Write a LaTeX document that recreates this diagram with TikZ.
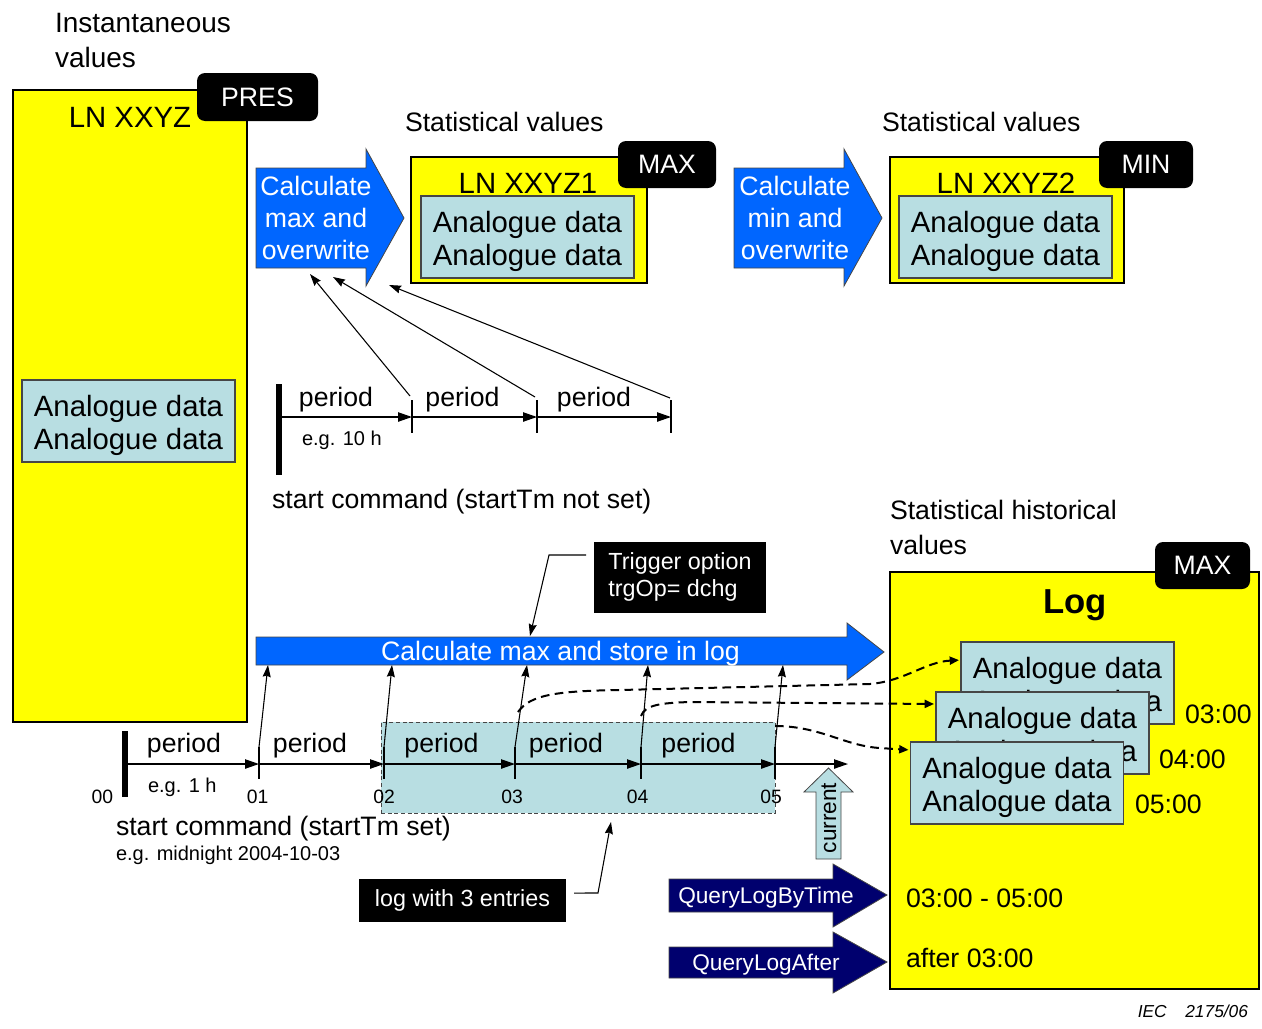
\documentclass[tikz,border=0pt]{standalone}
\usepackage{fontspec}
\setmainfont{Liberation Sans}
\usetikzlibrary{arrows.meta,calc}

\definecolor{lnyellow}{RGB}{255,255,0}
\definecolor{datacyan}{RGB}{184,222,226}
\definecolor{calcblue}{RGB}{0,102,255}
\definecolor{querynavy}{RGB}{0,0,110}
\definecolor{edgegray}{RGB}{70,70,70}
\newcommand\fsz[2]{\fontsize{#1}{#2}\selectfont}

\begin{document}
\begin{tikzpicture}[x=0.75pt,y=-0.75pt,
  every node/.style={inner sep=0pt, outer sep=0pt},
  boxsize/.style 2 args={minimum width={#1*0.75pt}, minimum height={#2*0.75pt}},
  lnbox/.style={draw=black, line width=1.5pt, fill=lnyellow},
  tag/.style={fill=black, rounded corners=6pt, text=white, font=\fsz{20}{24}},
  blackbox/.style={fill=black, text=white},
  databox/.style={draw=edgegray, line width=0.8pt, fill=datacyan},
  datatext/.style={align=center, font=\fsz{22}{24.75}},
  txtL/.style={font=\fsz{20}{24}},
  txtXL/.style={font=\fsz{22}{26}},
  txtS/.style={font=\fsz{15}{18}},
  txtT/.style={font=\fsz{14.5}{18}},
  calcarrow/.style={fill=calcblue, draw=edgegray, line width=0.6pt},
  queryarrow/.style={fill=querynavy, draw=edgegray, line width=0.6pt},
  axis/.style={line width=1pt, -{Triangle[length=10.5pt,width=7pt]}},
  startbar/.style={line width=4.5pt},
  tickbar/.style={line width=2.2pt},
  conn/.style={line width=0.8pt, -{Stealth[length=9pt,width=6pt,inset=1pt]}},
  dashconn/.style={line width=1.5pt, dash pattern=on 6.5pt off 4pt,
    -{Triangle[length=7pt,width=6pt]}, shorten >=1.5pt}]

\useasboundingbox (0,0) rectangle (1262,1028);

% ---------------- instantaneous values: LN XXYZ ----------------
\node[anchor=west, align=left, font=\fsz{21}{26.25}] (insttitle) at (55,40.4) {Instantaneous\\values};
\node[lnbox, boxsize={234}{632}] (xxyz) at (130,406) {};
\node[tag, boxsize={121}{48}] (pres) at (257.5,97) {PRES};
\node[txtXL, anchor=base] (xxyzname) at (130,127) {LN XXYZ};
\node[databox, boxsize={213}{82}] (xxyzdata) at (128.5,421) {};
\node[datatext] (xxyzdatatxt) at ([yshift=-3pt]xxyzdata.center) {Analogue data\\Analogue data};

% ---------------- statistical values: max ----------------
\path[calcarrow] (256,168) -- (366,168) -- (366,149) -- (404,218) -- (366,286) -- (366,268) -- (256,268) -- cycle;
\node[text=white, align=center, font=\fsz{20}{24}] (calcmax) at (316,218) {Calculate\\max and\\overwrite};
\node[txtL, anchor=base west] (stat1title) at (405,131) {Statistical values};
\node[lnbox, boxsize={236}{126}] (xxyz1) at (529,220) {};
\node[tag, boxsize={98}{47}] (max1) at (667,164.5) {MAX};
\node[txtXL, anchor=base] (xxyz1name) at (528,193) {LN XXYZ1};
\node[databox, boxsize={213}{82}] (xxyz1data) at (527.5,237) {};
\node[datatext] (xxyz1datatxt) at ([yshift=-3pt]xxyz1data.center) {Analogue data\\Analogue data};

% ---------------- statistical values: min ----------------
\path[calcarrow] (734,168) -- (844,168) -- (844,149) -- (882,218) -- (844,286) -- (844,268) -- (734,268) -- cycle;
\node[text=white, align=center, font=\fsz{20}{24}] (calcmin) at (795,218) {Calculate\\min and\\overwrite};
\node[txtL, anchor=base west] (stat2title) at (882,131) {Statistical values};
\node[lnbox, boxsize={234}{126}] (xxyz2) at (1007,220) {};
\node[tag, boxsize={94}{47}] (min2) at (1146,164.5) {MIN};
\node[txtXL, anchor=base] (xxyz2name) at (1006,193) {LN XXYZ2};
\node[databox, boxsize={213}{82}] (xxyz2data) at (1005.5,237) {};
\node[datatext] (xxyz2datatxt) at ([yshift=-3pt]xxyz2data.center) {Analogue data\\Analogue data};

% ---------------- upper time line (startTm not set) ----------------
\coordinate (u0) at (278.5,417);
\coordinate (u1) at (412,417);
\coordinate (u2) at (537,417);
\coordinate (u3) at (671,417);
\draw[startbar] (278.5,384) -- (278.5,475);
\draw[tickbar] (412,400) -- (412,433);
\draw[tickbar] (537,400) -- (537,433);
\draw[tickbar] (671,400) -- (671,433);
\draw[axis] (u0) -- (u1);
\draw[axis] (u1) -- (u2);
\draw[axis] (u2) -- (u3);
\node[txtL, anchor=base] (up1) at (336,406) {period};
\node[txtL, anchor=base] (up2) at (462.5,406) {period};
\node[txtL, anchor=base] (up3) at (594,406) {period};
\node[txtS, anchor=base west] (upeg) at (302,445) {e.g. 10 h};
\node[txtL, anchor=base west] (upstart) at (272,508) {start command (startTm not set)};

\coordinate (ut1) at (410,396);
\coordinate (ut2) at (535,397);
\coordinate (ut3) at (670,398);
\coordinate (ma1) at (310,274);
\coordinate (ma2) at (333,277);
\coordinate (ma3) at (389,285);
\draw[conn] (ut1) -- (ma1);
\draw[conn] (ut2) -- (ma2);
\draw[conn] (ut3) -- (ma3);

% ---------------- calculate max and store in log ----------------
\path[calcarrow] (256,637) -- (847,637) -- (847,623) -- (884,652) -- (847,680) -- (847,665) -- (256,665) -- cycle;
\node[text=white, anchor=base, txtL] (calclog) at (560.5,660) {Calculate max and store in log};

\node[blackbox, boxsize={172}{71}, align=left, font=\fsz{17.5}{20.25}] (trig) at (680,577) {Trigger option\\trgOp= dchg};
\coordinate (trigtip) at (530,636);
\draw[conn] ([xshift=-6pt,yshift=16.5pt]trig.west) -- (549,555) -- (trigtip);

% ---------------- lower time line (startTm set) ----------------
\node[draw=edgegray, line width=0.6pt, dash pattern=on 3pt off 2pt, fill=datacyan, boxsize={394}{91}] (logwin) at (578,767.5) {};

\coordinate (l0) at (125,764);
\coordinate (l1) at (259,764);
\coordinate (l2) at (384,764);
\coordinate (l3) at (515,764);
\coordinate (l4) at (641,764);
\coordinate (l5) at (775,764);
\coordinate (lend) at (848,764);
\draw[startbar] (125,731) -- (125,797);
\foreach \tx in {259,384,515,641,775} {\draw[tickbar] (\tx,747) -- (\tx,779);}
\draw[axis] (l0) -- (l1);
\draw[axis] (l1) -- (l2);
\draw[axis] (l2) -- (l3);
\draw[axis] (l3) -- (l4);
\draw[axis] (l4) -- (l5);
\draw[axis] (l5) -- (lend);

\node[txtL, anchor=base] (lp1) at (184,752) {period};
\node[txtL, anchor=base] (lp2) at (310,752) {period};
\node[txtL, anchor=base] (lp3) at (441.5,752) {period};
\node[txtL, anchor=base] (lp4) at (566,752) {period};
\node[txtL, anchor=base] (lp5) at (698.5,752) {period};
\node[txtS, anchor=base west] (loweg) at (148,792) {e.g. 1 h};
\node[txtT, anchor=base] (h00) at (102.5,803) {00};
\node[txtT, anchor=base] (h01) at (257.5,803) {01};
\node[txtT, anchor=base] (h02) at (384,803) {02};
\node[txtT, anchor=base] (h03) at (512,803) {03};
\node[txtT, anchor=base] (h04) at (637.5,803) {04};
\node[txtT, anchor=base] (h05) at (771,803) {05};
\node[txtL, anchor=base west] (lowstart) at (116,835) {start command (startTm set)};
\node[txtS, anchor=base west] (lowmid) at (116,860) {e.g. midnight 2004-10-03};

\coordinate (lt1) at (259,747);
\coordinate (lt2) at (384,747);
\coordinate (lt3) at (515,747);
\coordinate (lt4) at (641,747);
\coordinate (lt5) at (775,747);
\coordinate (la1) at (268,665);
\coordinate (la2) at (392,665);
\coordinate (la3) at (527,665);
\coordinate (la4) at (648,665);
\coordinate (la5) at (783,665);
\draw[conn] (lt1) -- (la1);
\draw[conn] (lt2) -- (la2);
\draw[conn] (lt3) -- (la3);
\draw[conn] (lt4) -- (la4);
\draw[conn] (lt5) -- (la5);

% current time marker
\path[fill=datacyan, draw=edgegray, line width=0.6pt] (816,859) -- (816,792) -- (804,792) -- (828.5,768) -- (853,792) -- (841,792) -- (841,859) -- cycle;
\node[rotate=90, font=\fsz{17}{20}] (current) at (829,818) {current};

\node[blackbox, boxsize={207}{43}, font=\fsz{17.5}{21}] (log3) at (462.5,900.5) {log with 3 entries};
\coordinate (logwintip) at (611,822);
\draw[conn] ([xshift=6pt,yshift=5.6pt]log3.east) -- (598,893) -- (logwintip);

% ---------------- statistical historical values: log ----------------
\node[anchor=west, align=left, font=\fsz{20}{26.25}] (histtitle) at (890,527) {Statistical historical\\values};
\node[lnbox, boxsize={369}{417}] (log) at (1074.5,780.5) {};
\node[tag, boxsize={95}{47}] (maxlog) at (1202.5,565.5) {MAX};
\node[anchor=base, font=\fsz{26}{30}\bfseries] (logname) at (1075,613) {Log};

\node[databox, boxsize={213}{82}] (e1) at (1067.5,683) {};
\node[datatext] (e1txt) at ([yshift=-3pt]e1.center) {Analogue data\\Analogue data};
\node[databox, boxsize={213}{82}] (e2) at (1042.5,733) {};
\node[datatext] (e2txt) at ([yshift=-3pt]e2.center) {Analogue data\\Analogue data};
\node[databox, boxsize={213}{82}] (e3) at (1017,783) {};
\node[datatext] (e3txt) at ([yshift=-3pt]e3.center) {Analogue data\\Analogue data};
\node[txtL, anchor=base west] (t1) at (1185,723) {03:00};
\node[txtL, anchor=base west] (t2) at (1159,768) {04:00};
\node[txtL, anchor=base west] (t3) at (1135,813) {05:00};

% entries written into the log
\coordinate (da) at (518,712);
\coordinate (db) at (641,716);
\coordinate (dc) at (775,726);
\draw[dashconn] (da) .. controls (530,695) and (555,691) .. (620,690) -- (870,684) .. controls (905,681) and (925,662) .. ([yshift=-13.5pt]e1.north west);
\draw[dashconn] (db) .. controls (645,705) and (660,703) .. (690,702) -- ([yshift=-9pt]e2.north west);
\draw[dashconn] (dc) .. controls (820,726) and (845,746) .. (880,748) -- ([yshift=-6pt]e3.north west);

% ---------------- queries ----------------
\path[queryarrow] (669,879) -- (833,879) -- (833,864) -- (887,895) -- (833,927) -- (833,912) -- (669,912) -- cycle;
\node[text=white, anchor=base, font=\fsz{17}{20}] (qbytime) at (766,903) {QueryLogByTime};
\path[queryarrow] (669,947) -- (833,947) -- (833,932) -- (887,962) -- (833,993) -- (833,978) -- (669,978) -- cycle;
\node[text=white, anchor=base, font=\fsz{17}{20}] (qafter) at (766,970) {QueryLogAfter};
\node[txtL, anchor=base west] (qr1) at (906,907) {03:00 - 05:00};
\node[txtL, anchor=base west] (qr2) at (906,967) {after 03:00};

\node[anchor=base east, font=\fsz{13}{15}\itshape] (iec) at (1248,1017) {IEC\hspace{14pt}2175/06};

\end{tikzpicture}
\end{document}
